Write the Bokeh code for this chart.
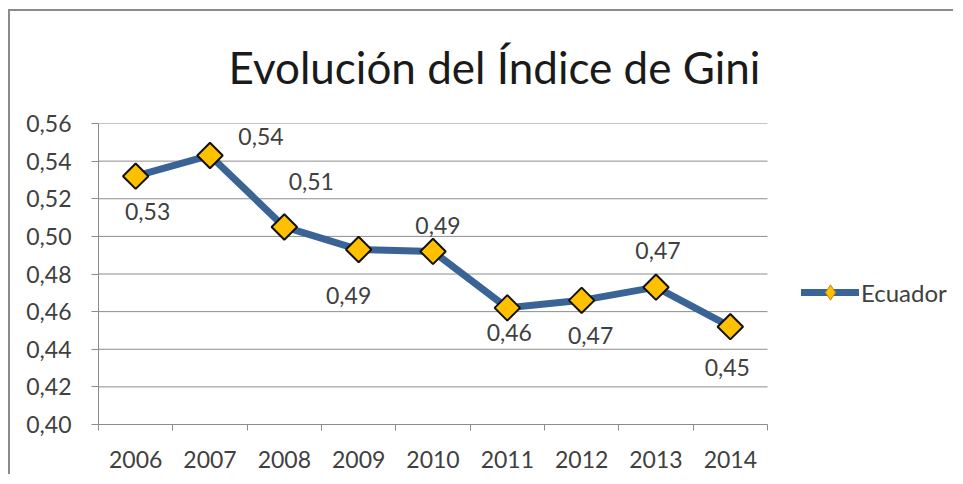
import math
from bokeh.plotting import figure
from bokeh.models import (ColumnDataSource, FixedTicker, LabelSet, Legend, LegendItem,
                          CustomJSTickFormatter, Range1d)
from bokeh.core.properties import value
from bokeh.embed import file_html
from bokeh.resources import INLINE

# ---- data ----
years = [2006, 2007, 2008, 2009, 2010, 2011, 2012, 2013, 2014]
gini = [0.532, 0.543, 0.505, 0.493, 0.492, 0.462, 0.466, 0.473, 0.452]
labels = ["0,53", "0,54", "0,51", "0,49", "0,49", "0,46", "0,47", "0,47", "0,45"]
y_ticks = [0.40, 0.42, 0.44, 0.46, 0.48, 0.50, 0.52, 0.54, 0.56]
series_name = "Ecuador"
title_text = "Evolución del Índice de Gini"

# label offsets in pixels (manual placement as in the original)
lab_dx = [12, 51, 27, -10, 5, 2, 9, 2, -3]
lab_dy = [-35, 19, 45, -46, 26, -25, -35, 37, -41]

FONT = "Lato"
TXT = "#404040"
FS = "23px"
GRID = "#8c8c8c"

# layout: plot area keeps room on its right for the legend
W, H = 945, 465
BL, BR, BT, BB = 88, 0, 112, 52
cat_px = 74.33                      # width of one category in pixels
frame_w = W - BL - BR
x0 = years[0] - 0.5
x_end = x0 + frame_w / cat_px
x_last = years[-1] + 0.5

src = ColumnDataSource(dict(x=years, y=gini, lab=labels, dx=lab_dx, dy=lab_dy))

p = figure(width=W, height=H, output_backend="svg", toolbar_location=None,
           x_range=Range1d(x0, x_end), y_range=Range1d(y_ticks[0], y_ticks[-1]),
           min_border_left=BL, min_border_right=BR, min_border_top=BT,
           min_border_bottom=BB)
p.styles = {"border-left": "2px solid #8a8a8a", "border-top": "2px solid #8a8a8a",
            "margin-left": "8px", "margin-top": "9px"}

p.title.text = title_text
p.title.text_font = FONT
p.title.text_font_size = "44px"
p.title.text_font_style = "normal"
p.title.text_color = "#1a1a1a"
p.title.align = "left"
p.title.vertical_align = "top"
p.title.offset = 130
p.title.standoff = 58

p.outline_line_color = None
p.background_fill_color = "white"
p.border_fill_color = "white"

# grid (limited to the category span)
p.xgrid.grid_line_color = None
p.ygrid.grid_line_color = None
gy = y_ticks[1:]
p.segment(x0=[x0] * len(gy), x1=[x_last] * len(gy), y0=gy, y1=gy,
          line_color=GRID, line_width=1)

# y axis
p.yaxis.ticker = FixedTicker(ticks=y_ticks)
p.yaxis.formatter = CustomJSTickFormatter(code="return tick.toFixed(2).replace('.', ',');")
p.yaxis.axis_line_color = GRID
p.yaxis.major_tick_line_color = GRID
p.yaxis.major_tick_out = 7
p.yaxis.major_tick_in = 0
p.yaxis.minor_tick_line_color = None
p.yaxis.major_label_text_font = FONT
p.yaxis.major_label_text_font_size = FS
p.yaxis.major_label_text_color = TXT
p.yaxis.major_label_standoff = 20

# x axis
boundaries = [y - 0.5 for y in years] + [x_last]
p.xaxis.ticker = FixedTicker(ticks=years, minor_ticks=boundaries)
p.xaxis.bounds = (x0, x_last)
p.xaxis.axis_line_color = GRID
p.xaxis.major_tick_line_color = None
p.xaxis.minor_tick_line_color = GRID
p.xaxis.minor_tick_out = 6
p.xaxis.minor_tick_in = 0
p.xaxis.major_label_text_font = FONT
p.xaxis.major_label_text_font_size = FS
p.xaxis.major_label_text_color = TXT
p.xaxis.major_label_standoff = 20

# series
line = p.line("x", "y", source=src, line_color="#3b6496", line_width=7,
              line_join="round", line_cap="round")
# small diamond used for the legend swatch (hidden under the plotted markers)
lg_pt = p.scatter("x", "y", source=src, marker="diamond", size=10,
                  fill_color="#ffc000", line_color="#b98a10", line_width=1)
pts = p.scatter("x", "y", source=src, marker="square", size=18, angle=math.pi / 4,
                fill_color="#ffc000", line_color="#111111", line_width=2)

p.add_layout(LabelSet(x="x", y="y", text="lab", x_offset="dx", y_offset="dy", source=src,
                      text_align="center", text_baseline="middle",
                      text_font=value(FONT), text_font_size=FS, text_color=TXT))

legend = Legend(items=[LegendItem(label=series_name, renderers=[line, lg_pt])],
                location=(703, 113), orientation="vertical",
                glyph_width=58, glyph_height=38, label_standoff=2,
                label_text_font=FONT, label_text_font_size="24px", label_text_color=TXT,
                border_line_color=None, background_fill_alpha=0, padding=0, margin=0)
p.add_layout(legend)

open("out.html", "w").write(file_html(p, INLINE))
